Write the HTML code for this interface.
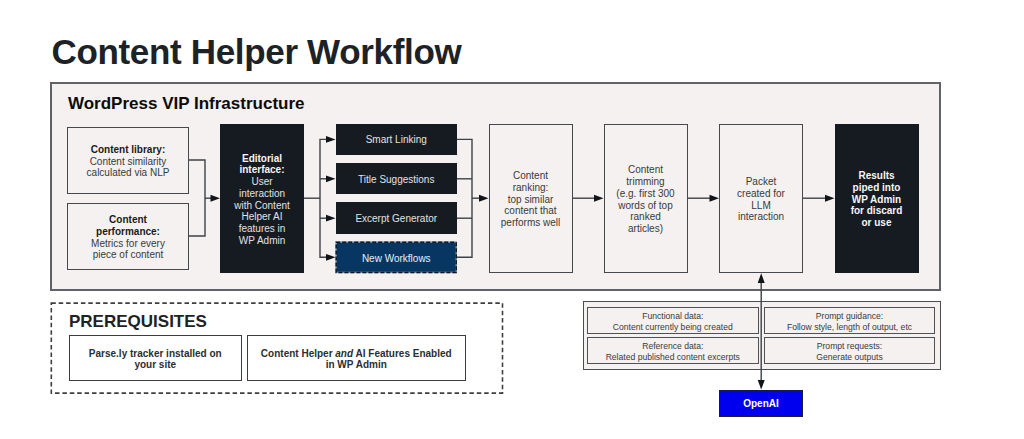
<!DOCTYPE html>
<html><head><meta charset="utf-8">
<style>
*{margin:0;padding:0;box-sizing:border-box;}
html,body{width:1024px;height:439px;overflow:hidden;background:#fff;font-family:"Liberation Sans",sans-serif;}
.a{position:absolute;}
.box{position:absolute;display:flex;align-items:center;justify-content:center;text-align:center;font-size:10px;line-height:11.75px;color:#3a3a3a;padding-top:2.5px;}
.lt{background:#f4f1f0;border:1.5px solid #45494d;}
.dk{background:#161b22;color:#e2e2e2;}
.dk b{color:#f6f6f6;}
b{font-weight:bold;}
.title{left:51.5px;top:29.5px;font-size:35px;font-weight:bold;color:#1d2226;letter-spacing:-0.33px;line-height:44px;white-space:nowrap;}
</style></head><body>
<div class="a title">Content Helper Workflow</div>

<!-- VIP box -->
<div class="a" style="left:50.3px;top:82.2px;width:890.9px;height:208.9px;background:#f4f1f0;border:2px solid #5f6367;"></div>
<div class="a" style="left:68px;top:94px;font-size:17px;font-weight:bold;color:#0c0c0c;line-height:20px;letter-spacing:0px;white-space:nowrap;">WordPress VIP Infrastructure</div>

<div class="box lt" style="left:67px;top:127px;width:122px;height:66.5px;"><div><b style="color:#1a1a1a">Content library:</b><br>Content similarity<br>calculated via NLP</div></div>
<div class="box lt" style="left:67px;top:203px;width:122px;height:66.5px;"><div><b style="color:#1a1a1a">Content<br>performance:</b><br>Metrics for every<br>piece of content</div></div>

<div class="box dk" style="left:220px;top:123.5px;width:84px;height:149.5px;"><div><b>Editorial<br>interface:</b><br>User<br>interaction<br>with Content<br>Helper AI<br>features in<br>WP Admin</div></div>

<div class="box dk" style="left:335.5px;top:123.5px;width:121.5px;height:31.1px;">Smart Linking</div>
<div class="box dk" style="left:335.5px;top:162.8px;width:121.5px;height:31.1px;">Title Suggestions</div>
<div class="box dk" style="left:335.5px;top:202.2px;width:121.5px;height:31.4px;">Excerpt Generator</div>
<div class="box" style="left:335.5px;top:241.5px;width:121.5px;height:31.5px;background:#083662;color:#e8eef5;">New Workflows</div>

<div class="box lt" style="left:488.5px;top:123.5px;width:84px;height:149.5px;"><div>Content<br>ranking:<br>top similar<br>content that<br>performs well</div></div>
<div class="box lt" style="left:603.5px;top:123.5px;width:84px;height:149.5px;"><div>Content<br>trimming<br>(e.g. first 300<br>words of top<br>ranked<br>articles)</div></div>
<div class="box lt" style="left:719px;top:123.5px;width:84px;height:149.5px;"><div>Packet<br>created for<br>LLM<br>interaction</div></div>
<div class="box dk" style="left:834.5px;top:123.5px;width:84px;height:149.5px;"><div><b>Results<br>piped into<br>WP Admin<br>for discard<br>or use</b></div></div>

<!-- prerequisites -->
<div class="a" style="left:69px;top:312px;font-size:17px;font-weight:bold;color:#1d2226;line-height:20px;white-space:nowrap;">PREREQUISITES</div>
<div class="box" style="left:68.5px;top:335px;width:173.5px;height:46px;border:1.5px solid #3a3d40;background:#fff;color:#2b2e31;"><b>Parse.ly tracker installed on<br>your site</b></div>
<div class="box" style="left:247px;top:335px;width:218.5px;height:46px;border:1.5px solid #3a3d40;background:#fff;color:#2b2e31;"><b>Content Helper <i>and</i> AI Features Enabled<br>in WP Admin</b></div>

<!-- data box -->
<div class="a" style="left:582.5px;top:301.3px;width:358px;height:68.7px;background:#f4f1f0;border:1.5px solid #4a4e52;"></div>
<div class="box lt" style="left:587px;top:307.2px;width:171.5px;height:27.3px;font-size:8.6px;line-height:11px;border-width:1.8px;border-color:#4e5256;"><div>Functional data:<br>Content currently being created</div></div>
<div class="box lt" style="left:764px;top:307.2px;width:171px;height:27.3px;font-size:8.6px;line-height:11px;border-width:1.8px;border-color:#4e5256;"><div>Prompt guidance:<br>Follow style, length of output, etc</div></div>
<div class="box lt" style="left:587px;top:337.2px;width:171.5px;height:27.3px;font-size:8.6px;line-height:11px;border-width:1.8px;border-color:#4e5256;"><div>Reference data:<br>Related published content excerpts</div></div>
<div class="box lt" style="left:764px;top:337.2px;width:171px;height:27.3px;font-size:8.6px;line-height:11px;border-width:1.8px;border-color:#4e5256;"><div>Prompt requests:<br>Generate outputs</div></div>

<div class="box" style="left:719px;top:389.5px;width:84px;height:27px;background:#0000ee;border:1px solid #1a1a40;color:#fff;"><b>OpenAI</b></div>

<svg class="a" style="left:0;top:0" width="1024" height="439" viewBox="0 0 1024 439">
<g fill="none" stroke="#3e4246" stroke-width="1.4">
<polyline points="189,160 205,160 205,236 189,236"/>
<line x1="205" y1="198.2" x2="212" y2="198.2"/>
<line x1="304" y1="198.2" x2="320" y2="198.2"/>
<polyline points="327,139.4 320,139.4 320,257.3 327,257.3"/>
<line x1="320" y1="178.8" x2="327" y2="178.8"/>
<line x1="320" y1="218.2" x2="327" y2="218.2"/>
<polyline points="457,139.4 472,139.4 472,257.3 457,257.3"/>
<line x1="457" y1="178.8" x2="472" y2="178.8"/>
<line x1="457" y1="218.2" x2="472" y2="218.2"/>
<line x1="472" y1="198.2" x2="480" y2="198.2"/>
<line x1="572.5" y1="198.2" x2="595" y2="198.2"/>
<line x1="687.5" y1="198.2" x2="711" y2="198.2"/>
<line x1="803" y1="198.2" x2="826" y2="198.2"/>
<line x1="761.2" y1="282" x2="761.2" y2="381"/>
</g>
<rect x="51.3" y="303.1" width="451.2" height="90" fill="none" stroke="#3c4044" stroke-width="1.6" stroke-dasharray="4.5 2.9"/>
<rect x="336.2" y="242.2" width="120" height="30.2" fill="none" stroke="#6f90b4" stroke-width="1.5"/>
<rect x="336.2" y="242.2" width="120" height="30.2" fill="none" stroke="#12161b" stroke-width="1.5" stroke-dasharray="4 2"/>
<g fill="#111418">
<polygon points="210.5,194.7 220,198.2 210.5,201.7"/>
<polygon points="326,136 335.5,139.4 326,142.8"/>
<polygon points="326,175.4 335.5,178.8 326,182.2"/>
<polygon points="326,214.8 335.5,218.2 326,221.6"/>
<polygon points="326,253.9 335.5,257.3 326,260.7"/>
<polygon points="479,194.7 488.5,198.2 479,201.7"/>
<polygon points="594,194.7 603.5,198.2 594,201.7"/>
<polygon points="709.5,194.7 719,198.2 709.5,201.7"/>
<polygon points="825,194.7 834.5,198.2 825,201.7"/>
<polygon points="757.7,283 761.2,273.3 764.7,283"/>
<polygon points="757.7,380 761.2,389.6 764.7,380"/>
</g>
</svg>
</body></html>
